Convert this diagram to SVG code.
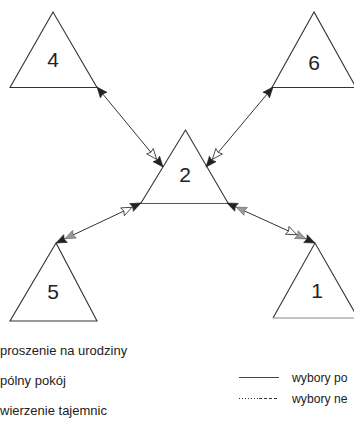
<svg xmlns="http://www.w3.org/2000/svg" width="354" height="427" viewBox="0 0 354 427">
<style>
.tri{fill:#fff;stroke:#333;stroke-width:1.1}
.num{font-family:"Liberation Sans",Arial,sans-serif;font-size:21px;fill:#222;text-anchor:middle}
.leg{font-family:"Liberation Sans",Arial,sans-serif;font-size:13px;fill:#222}
.legr{font-family:"Liberation Sans",Arial,sans-serif;font-size:12.2px;fill:#222}
.con{stroke:#333;stroke-width:1;fill:none}
.blk{fill:#222;stroke:#222;stroke-width:0.6}
.gry{fill:#999;stroke:#666;stroke-width:0.6}
.wht{fill:#fff;stroke:#333;stroke-width:0.8}
</style>
<defs>
<path id="ah" d="M0,0 L-10.5,-4.3 L-9,0 L-10.5,4.3 Z"/>
</defs>
<rect width="354" height="427" fill="#fff"/>
<g id="node4"><polygon class="tri" points="53,12 10,87.5 97,87.5"/><text class="num" x="53" y="67">4</text></g>
<g id="node6"><polygon class="tri" points="314,12 272,87.5 356,87.5"/><text class="num" x="314" y="70">6</text></g>
<g id="node2"><polyline class="tri" points="141,203 185.5,130 228,203"/><line x1="141" y1="203.5" x2="228" y2="203.5" stroke="#555" stroke-width="1"/><text class="num" x="185" y="182">2</text></g>
<g id="node5"><polygon class="tri" points="56,243 10,321 97,321"/><text class="num" x="53" y="299">5</text></g>
<g id="node1"><polyline class="tri" points="273,318 315,243 358,318"/><line x1="273" y1="318" x2="358" y2="318" stroke="#888" stroke-width="1.2"/><text class="num" x="317" y="298">1</text></g>
<g id="connectors">
<line class="con" x1="97" y1="87" x2="163" y2="167"/>
<use href="#ah" class="blk" transform="translate(97,87) rotate(230.5)"/>
<use href="#ah" class="wht" transform="translate(156.6,159.3) rotate(50.5)"/>
<use href="#ah" class="blk" transform="translate(163,167) rotate(50.5)"/>
<line class="con" x1="273" y1="87" x2="206" y2="167"/>
<use href="#ah" class="blk" transform="translate(273,87) rotate(-50.1)"/>
<use href="#ah" class="wht" transform="translate(212.4,159.3) rotate(129.9)"/>
<use href="#ah" class="blk" transform="translate(206,167) rotate(129.9)"/>
<line class="con" x1="56" y1="243" x2="141" y2="203"/>
<use href="#ah" class="wht" transform="translate(132,207.3) rotate(-25.2)"/>
<use href="#ah" class="blk" transform="translate(141,203) rotate(-25.2)"/>
<use href="#ah" class="gry" transform="translate(65,238.7) rotate(154.8)"/>
<use href="#ah" class="blk" transform="translate(56,243) rotate(154.8)"/>
<line class="con" x1="227" y1="203" x2="315" y2="243"/>
<use href="#ah" class="gry" transform="translate(236.1,207.1) rotate(204.4)"/>
<use href="#ah" class="blk" transform="translate(227,203) rotate(204.4)"/>
<use href="#ah" class="wht" transform="translate(296.8,234.7) rotate(24.4)"/>
<use href="#ah" class="gry" transform="translate(305.9,238.9) rotate(24.4)"/>
<use href="#ah" class="blk" transform="translate(315,243) rotate(24.4)"/>
</g>
<g id="legend">
<text class="leg" x="0" y="355">proszenie na urodziny</text>
<text class="leg" x="0" y="385">pólny pokój</text>
<text class="leg" x="0" y="415">wierzenie tajemnic</text>
<line x1="239" y1="377.5" x2="279" y2="377.5" stroke="#444" stroke-width="1"/>
<line x1="239" y1="398.5" x2="258" y2="398.5" stroke="#333" stroke-width="1" stroke-dasharray="1,2"/>
<line x1="259" y1="398.5" x2="279" y2="398.5" stroke="#333" stroke-width="1" stroke-dasharray="3,2"/>
<text class="legr" x="292" y="382">wybory po</text>
<text class="legr" x="292" y="403">wybory ne</text>
</g>
</svg>
